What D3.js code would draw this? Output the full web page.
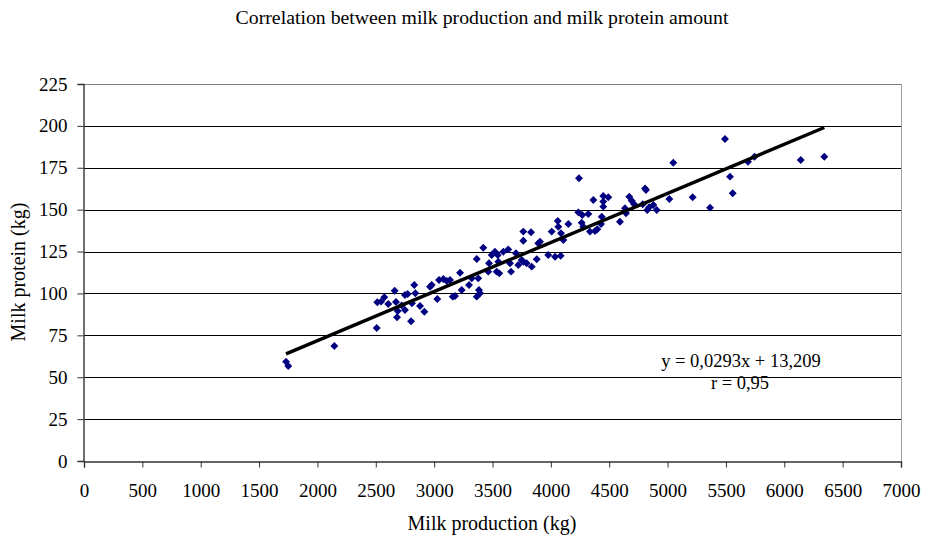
<!DOCTYPE html>
<html><head><meta charset="utf-8">
<script src="https://cdn.jsdelivr.net/npm/d3@7"></script>
<style>
body{margin:0;background:#fff;}
svg{display:block;font-family:"Liberation Serif","Times New Roman",serif;}
</style></head>
<body><svg id="c" width="925" height="537"></svg>
<script>
const title = "Correlation between milk production and milk protein amount";
const xLabel = "Milk production (kg)";
const yLabel = "Milk protein (kg)";
const xTicks = [0,500,1000,1500,2000,2500,3000,3500,4000,4500,5000,5500,6000,6500,7000];
const yTicks = [0,25,50,75,100,125,150,175,200,225];
const milkProduction = [1731,1750,2145,2508,2513,2545,2573,2607,2662,2673,2688,2682,2722,2750,2750,2773,2802,2810,2830,2839,2879,2916,2965,2979,3027,3042,3079,3108,3136,3159,3179,3222,3236,3299,3322,3365,3384,3393,3365,3378,3421,3470,3493,3521,3545,3550,3464,3536,3558,3593,3635,3650,3659,3701,3721,3750,3764,3793,3764,3830,3764,3836,3879,3892,3907,3978,4036,4084,4007,4064,4087,4107,4059,4150,4235,4269,4321,4264,4278,4335,4378,4364,4449,4449,4436,4592,4635,4241,4398,4430,4449,4492,4644,4672,4693,4712,4807,4815,4826,4843,4878,4907,4787,5015,5049,5215,5364,5492,5535,5558,5689,5745,6141,6343];
const milkProtein = [59.3,56.7,68.6,79.4,94.7,95.1,97.7,93.7,101.6,94.9,89.5,85.8,92.9,90.1,99.1,99.7,83.4,94.1,105.0,100.1,92.5,89.1,104.0,105.0,96.7,108.0,108.6,107.4,108.0,98.1,98.5,112.4,102.1,105.0,109.0,98.1,102.1,100.1,120.6,109.0,127.3,118.0,122.9,124.9,122.9,118.9,113.0,113.0,112.0,124.9,126.3,118.0,113.0,124.0,117.0,120.0,118.9,118.0,136.9,136.5,131.5,116.0,120.4,129.9,130.9,122.9,121.9,122.5,136.9,139.8,135.9,131.9,143.2,141.4,148.4,146.8,147.4,142.2,139.8,136.9,137.3,155.8,154.8,151.8,145.8,142.8,150.8,168.7,138.3,141.4,158.2,157.4,147.8,157.7,155.3,153.4,162.7,161.7,149.8,151.4,152.8,149.8,153.2,156.4,178.0,157.4,151.2,192.2,169.7,159.8,178.6,181.6,179.6,181.6];
const slope = 0.0293, intercept = 13.209;
const equationLines = ["y = 0,0293x + 13,209", "r = 0,95"];

const svg = d3.select("#c");
const L = 84, R = 901, T = 84, B = 461;
const x = d3.scaleLinear().domain([0,7000]).range([L,R]);
const y = d3.scaleLinear().domain([0,225]).range([B,T]);

// gridlines
svg.append("g").selectAll("line").data(yTicks.filter(d=>d>0 && d<225)).join("line")
  .attr("x1",L).attr("x2",R).attr("y1",d=>Math.round(y(d))+0.5).attr("y2",d=>Math.round(y(d))+0.5)
  .attr("stroke","#000").attr("stroke-width",1.2);
// plot border top/right
svg.append("line").attr("x1",L).attr("x2",R).attr("y1",T+0.5).attr("y2",T+0.5).attr("stroke","#808080").attr("stroke-width",1.2);
svg.append("line").attr("x1",R+0.5).attr("x2",R+0.5).attr("y1",T).attr("y2",B).attr("stroke","#a0a0a0");

// axes
const xAxis = d3.axisBottom(x).tickValues(xTicks).tickSize(6).tickPadding(16).tickFormat(d3.format("d"));
const gx = svg.append("g").attr("transform",`translate(0,${B+0.5})`).call(xAxis);
const yAxis = d3.axisLeft(y).tickValues(yTicks).tickSize(6).tickPadding(10).tickFormat(d3.format("d"));
const gy = svg.append("g").attr("transform",`translate(${L-0.5},0)`).call(yAxis);
[gx,gy].forEach(g=>{
  g.select(".domain").attr("stroke","#333").attr("stroke-width",1.4);
  g.selectAll(".tick line").attr("stroke","#333");
  g.selectAll("text").attr("font-family","Liberation Serif, Times New Roman, serif").attr("font-size",19).attr("fill","#000");
});

// points
const pts = milkProduction.map((v,i)=>[v,milkProtein[i]]);
const diamond = d3.symbol().type(d3.symbolDiamond2).size(40);
svg.append("g").selectAll("path").data(pts).join("path")
  .attr("d",diamond)
  .attr("transform",d=>`translate(${x(d[0])},${y(d[1])})`)
  .attr("fill","#000080");

// trendline
const xmin = d3.min(milkProduction), xmax = d3.max(milkProduction);
svg.append("line")
  .attr("x1",x(xmin)).attr("y1",y(slope*xmin+intercept))
  .attr("x2",x(xmax)).attr("y2",y(slope*xmax+intercept))
  .attr("stroke","#000").attr("stroke-width",3.4);

// texts
svg.append("text").attr("x",482).attr("y",24).attr("text-anchor","middle").attr("font-size",19.8).text(title);
svg.append("text").attr("x",492).attr("y",530).attr("text-anchor","middle").attr("font-size",20).text(xLabel);
svg.append("text").attr("transform","translate(25,272) rotate(-90)").attr("text-anchor","middle").attr("font-size",20).text(yLabel);
svg.append("text").attr("x",741).attr("y",367).attr("text-anchor","middle").attr("font-size",18.5).text(equationLines[0]);
svg.append("text").attr("x",740).attr("y",389).attr("text-anchor","middle").attr("font-size",18.5).text(equationLines[1]);
</script></body></html>
